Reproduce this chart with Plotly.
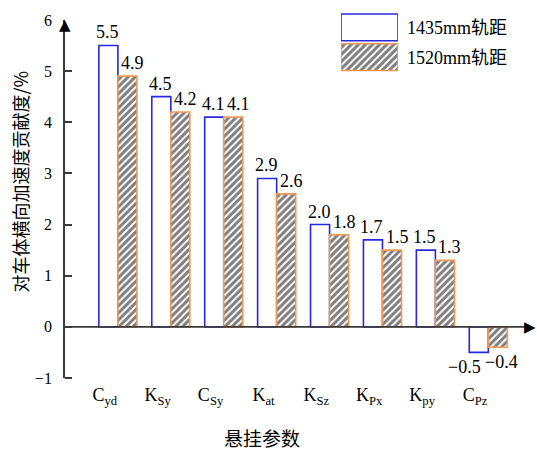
import plotly.graph_objects as go

# Suspension parameters and their contribution to car-body lateral acceleration (%)
params = ["C<sub>yd</sub>", "K<sub>Sy</sub>", "C<sub>Sy</sub>", "K<sub>at</sub>",
          "K<sub>Sz</sub>", "K<sub>Px</sub>", "K<sub>py</sub>", "C<sub>Pz</sub>"]
gauge_1435 = [5.5, 4.5, 4.1, 2.9, 2.0, 1.7, 1.5, -0.5]
gauge_1520 = [4.9, 4.2, 4.1, 2.6, 1.8, 1.5, 1.3, -0.4]
series_names = ["1435mm轨距", "1520mm轨距"]
y_ticks = [-1, 0, 1, 2, 3, 4, 5, 6]

W, H = 537, 454
M_T, M_B = 5, 76
PAPER_H = H - M_T - M_B
PLOT_BOTTOM = H - M_B
PLOT_LEFT, PLOT_TOP = 65, 17
X_RANGE = [-1, 7.92]
Y_RANGE = [-1, 6]
PX_PER_X = (W - PLOT_LEFT) / (X_RANGE[1] - X_RANGE[0])


def fx(p):
    return p / W


def fy(p):
    return (PLOT_BOTTOM - p) / PAPER_H


def fmt(v):
    s = f"{abs(v):.1f}"
    return ("\u2212" + s) if v < 0 else s


BLUE = "#2828E0"
ORANGE = "#EE9A55"
AXIS = "#3a3a3a"
SERIF = "Liberation Serif"
MIXED = "Liberation Serif, Noto Sans CJK SC"
CJK = "Noto Sans CJK SC"
HATCH = dict(shape="/", fgcolor="#000000", bgcolor="white", size=5, solidity=0.6)

BARGAP = 0.28
bar_w = (1 - BARGAP) / 2
pos = list(range(len(params)))

fig = go.Figure()
fig.add_trace(go.Bar(
    x=pos, y=gauge_1435, name=series_names[0],
    marker=dict(color="white", line=dict(color=BLUE, width=1.6)),
    showlegend=False,
))
fig.add_trace(go.Bar(
    x=pos, y=gauge_1520, name=series_names[1],
    marker=dict(color="white", line=dict(color=ORANGE, width=1.6), pattern=HATCH),
    showlegend=False,
))

# Legend keys drawn as bars on a small inset axis
fig.add_trace(go.Bar(
    x=[1], y=[1], orientation="h", width=0.9, xaxis="x2", yaxis="y2",
    marker=dict(color="white", line=dict(color=BLUE, width=1.6)),
    showlegend=False, cliponaxis=False, hoverinfo="skip",
))
fig.add_trace(go.Bar(
    x=[1], y=[0], orientation="h", width=0.9, xaxis="x2", yaxis="y2",
    marker=dict(color="white", line=dict(color=ORANGE, width=1.6), pattern=HATCH),
    showlegend=False, cliponaxis=False, hoverinfo="skip",
))

# Value labels: above positive bars; below negative bars, split either side of the group
annotations = []
for k, values in enumerate([gauge_1435, gauge_1520]):
    side = -1 if k == 0 else 1
    for i, v in zip(pos, values):
        if v >= 0:
            annotations.append(dict(
                x=i + side * bar_w / 2, y=v, xref="x", yref="y", text=fmt(v),
                showarrow=False, xanchor="center", yanchor="bottom", yshift=1,
                xshift=-1 if k == 0 else 5,
                font=dict(size=18, family=SERIF, color="black")))
        else:
            annotations.append(dict(
                x=i, y=v, xref="x", yref="y", text=fmt(v),
                showarrow=False, xanchor="right" if k == 0 else "left",
                yanchor="top", yshift=-3, xshift=-5,
                font=dict(size=18, family=SERIF, color="black")))

# Arrow heads at the ends of both axes
annotations += [
    dict(text="\u25B6", x=1, y=0, xref="paper", yref="y", showarrow=False,
         xanchor="right", yanchor="middle", borderpad=0,
         font=dict(size=15, family="DejaVu Sans", color="black")),
    dict(text="\u25B2", x=fx(PLOT_LEFT), y=fy(22), xref="paper", yref="paper",
         showarrow=False, xanchor="center", yanchor="middle", borderpad=0,
         font=dict(size=15, family="DejaVu Sans", color="black")),
]

annotations += [
    dict(text="悬挂参数", x=fx(262), y=fy(438), xref="paper", yref="paper",
         showarrow=False, font=dict(size=19, family=CJK, color="black"),
         xanchor="center", yanchor="middle"),
    dict(text="对车体横向加速度贡献度/%", x=fx(20), y=fy(180), xref="paper", yref="paper",
         showarrow=False, textangle=-90, font=dict(size=18, family=CJK, color="black"),
         xanchor="center", yanchor="middle"),
    dict(text=series_names[0], x=fx(405), y=fy(25), xref="paper", yref="paper",
         showarrow=False, font=dict(size=18, family=MIXED, color="black"),
         xanchor="left", yanchor="middle"),
    dict(text=series_names[1], x=fx(405), y=fy(55), xref="paper", yref="paper",
         showarrow=False, font=dict(size=18, family=MIXED, color="black"),
         xanchor="left", yanchor="middle"),
]

shapes = [
    dict(type="line", xref="x", yref="y", x0=X_RANGE[0], x1=X_RANGE[1] - 10 / PX_PER_X,
         y0=0, y1=0, line=dict(color=AXIS, width=1.8)),
]

fig.update_layout(
    width=W, height=H,
    margin=dict(l=0, r=0, t=M_T, b=M_B),
    paper_bgcolor="white", plot_bgcolor="white",
    font=dict(family=SERIF, size=15, color="black"),
    barmode="group", bargap=BARGAP, bargroupgap=0,
    shapes=shapes, annotations=annotations,
    xaxis=dict(domain=[fx(PLOT_LEFT), 1], range=X_RANGE, anchor="y",
               tickvals=[p - 0.25 for p in pos], ticktext=params,
               tickfont=dict(size=18, family=SERIF), ticks="",
               showline=False, showgrid=False, zeroline=False,
               ticklabelstandoff=4),
    yaxis=dict(domain=[0, fy(PLOT_TOP)], range=Y_RANGE, anchor="x",
               tickvals=y_ticks, ticks="", tickfont=dict(size=16, family=SERIF),
               minor=dict(tickvals=y_ticks[:-1], ticks="inside", ticklen=7,
                          tickcolor=AXIS, tickwidth=1.6),
               showline=True, linecolor=AXIS, linewidth=1.8,
               showgrid=False, zeroline=False, ticklabelstandoff=8),
    xaxis2=dict(domain=[fx(341), fx(398)], range=[0, 1], anchor="y2",
                visible=False, fixedrange=True),
    yaxis2=dict(domain=[fy(69.5), fy(9.5)], range=[-0.5, 1.5], anchor="x2",
                visible=False, fixedrange=True),
)

fig.write_html("out.html")
